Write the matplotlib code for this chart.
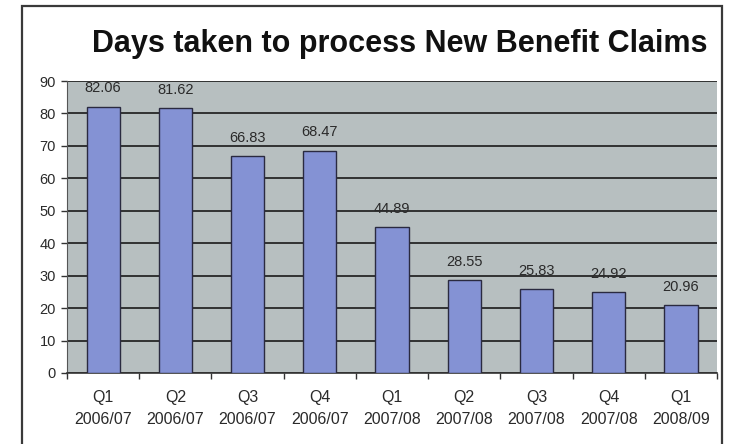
import matplotlib
matplotlib.use("Agg")
import matplotlib.pyplot as plt
from matplotlib.patches import Rectangle

quarters = ["Q1", "Q2", "Q3", "Q4", "Q1", "Q2", "Q3", "Q4", "Q1"]
years = ["2006/07", "2006/07", "2006/07", "2006/07", "2007/08", "2007/08", "2007/08", "2007/08", "2008/09"]
days = [82.06, 81.62, 66.83, 68.47, 44.89, 28.55, 25.83, 24.92, 20.96]
yticks = [0, 10, 20, 30, 40, 50, 60, 70, 80, 90]
title = "Days taken to process New Benefit Claims"

plt.rcParams['font.family'] = ['Liberation Sans', 'DejaVu Sans']

W, H = 740, 444
fig = plt.figure(figsize=(W/100, H/100), dpi=100)
fig.patch.set_facecolor('white')

# outer frame
fig.patches.append(Rectangle((22/W, -0.05), (722-22)/W, 1.05 - 6/H, transform=fig.transFigure,
                             fill=False, edgecolor='#3a3a3a', linewidth=1.6))

ax = fig.add_axes([67/W, 1 - 373/H, (717-67)/W, (373-81)/H])
ax.set_facecolor('#b7bfc0')
x = list(range(len(days)))
ax.set_axisbelow(True)
ax.yaxis.grid(True, color='#1a1a1a', linewidth=1.2)
bars = ax.bar(x, days, width=0.46, color='#8492d4', edgecolor='#2a2a40', linewidth=1.0, zorder=3)
for xi, v in zip(x, days):
    ax.text(xi, v + 5.7, f"{v:.2f}", ha='center', va='center', fontsize=10.5, color='#2a2a2a', zorder=4)

ax.set_xlim(-0.5, len(days) - 0.5)
ax.set_ylim(0, 90)
ax.set_yticks(yticks)
ax.tick_params(axis='y', labelsize=10.5, labelcolor='#2a2a2a', length=4, width=1, color='#333333', pad=4)
ax.set_xticks(x)
ax.set_xticklabels([f"{q}\n{y}" for q, y in zip(quarters, years)], fontsize=11.5, color='#2a2a2a', linespacing=1.6)
ax.tick_params(axis='x', length=0, pad=12)
ax.set_xticks([i - 0.5 for i in range(len(days) + 1)], minor=True)
ax.tick_params(axis='x', which='minor', length=4, width=1, color='#333333')

for s in ['top', 'right']:
    ax.spines[s].set_visible(False)
ax.spines['left'].set_color('#555555')
ax.spines['bottom'].set_color('#333333')
ax.spines['bottom'].set_linewidth(1.2)

fig.text(400/W, 1 - 44/H, title, ha='center', va='center', fontsize=22, fontweight='bold', color='#111111')

fig.savefig("out.png", dpi=100, facecolor='white')
